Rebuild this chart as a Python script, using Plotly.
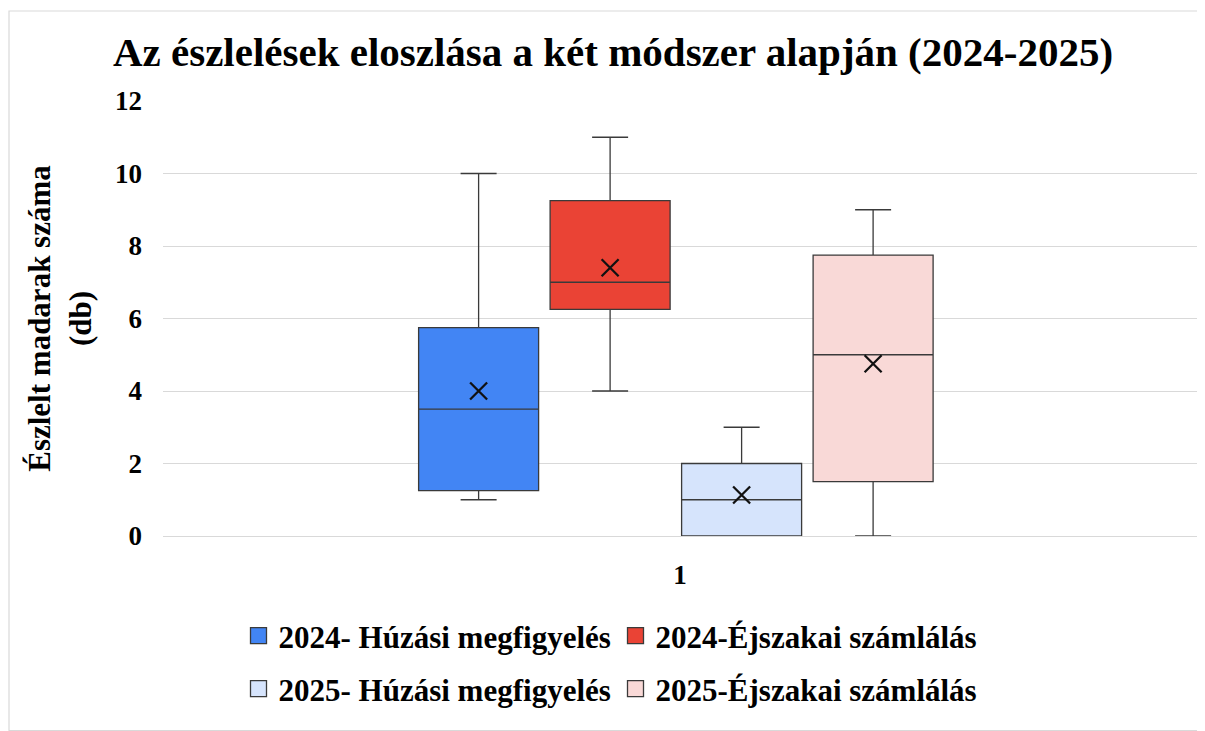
import plotly.graph_objects as go

# ---- data ----
series_names = ["2024- Húzási megfigyelés", "2024-Éjszakai számlálás",
                "2025- Húzási megfigyelés", "2025-Éjszakai számlálás"]
lower_fence = [1.0, 4.0, 0.0, 0.0]
q1_vals = [1.25, 6.25, 0.0, 1.5]
median_vals = [3.5, 7.0, 1.0, 5.0]
q3_vals = [5.75, 9.25, 2.0, 7.75]
upper_fence = [10.0, 11.0, 3.0, 9.0]
mean_vals = [4.0, 7.4, 1.13, 4.75]
category_label = "1"

colors = ["#4285f4", "#ea4335", "#d6e4fc", "#f9d9d7"]
legends = ["legend", "legend", "legend2", "legend2"]

FONT = "Liberation Serif"
OFF = 8  # page body margin
W, H = 1205 - OFF, 731 - OFF
# plot area in page pixels: x 163..1197, y 101..536
ML, MT = 163 - OFF, 101 - OFF
MR = W - (1197 - OFF)
MB = H - (536 - OFF)
PW, PH = W - ML - MR, H - MT - MB

spacing = 131.5 / PW
positions = [(i - 1.5) * spacing - 0.004 for i in range(len(series_names))]
box_w = 120 / PW


def px_x(p):  # page px -> paper x
    return (p - OFF - ML) / PW


def px_y(q):  # page px -> paper y
    return (MT + PH - (q - OFF)) / PH


fig = go.Figure()
for i, name in enumerate(series_names):
    fig.add_trace(go.Box(
        name=name, x=[positions[i]],
        q1=[q1_vals[i]], median=[median_vals[i]], q3=[q3_vals[i]],
        lowerfence=[lower_fence[i]], upperfence=[upper_fence[i]],
        width=box_w, whiskerwidth=0.3,
        fillcolor=colors[i], line=dict(color="#3a3a3a", width=1.3),
        showlegend=False, hoverinfo="skip",
    ))
    # legend swatch
    fig.add_trace(go.Scatter(
        name=name, x=[None], y=[None], mode="markers",
        marker=dict(symbol="square", size=21, color=colors[i],
                    line=dict(color="#3a3a3a", width=1.3)),
        legend=legends[i], showlegend=True, hoverinfo="skip",
    ))
fig.add_trace(go.Scatter(
    x=positions, y=mean_vals, mode="markers", showlegend=False,
    marker=dict(symbol="x-thin", size=17, line=dict(color="#111111", width=2.3)),
    hoverinfo="skip",
))

legend_common = dict(orientation="h", x=px_x(258 - 19.5), xanchor="left", yanchor="middle",
                     entrywidth=332, entrywidthmode="pixels",
                     font=dict(size=31, family=FONT, weight="bold", color="#000000"),
                     itemsizing="trace", bgcolor="rgba(0,0,0,0)")

fig.update_layout(
    width=W, height=H,
    margin=dict(l=ML, r=MR, t=MT, b=MB),
    paper_bgcolor="white", plot_bgcolor="white",
    font=dict(family=FONT, color="#000000"),
    title=dict(text="Az észlelések eloszlása a két módszer alapján (2024-2025)",
               xref="container", x=(613 - OFF) / W, xanchor="center",
               yref="container", y=1 - (52 - OFF) / H, yanchor="middle",
               font=dict(size=41, family=FONT, weight="bold", color="#000000")),
    xaxis=dict(range=[-0.5, 0.5], tickvals=[0], ticktext=[category_label],
               showgrid=False, zeroline=False, showline=False, ticks="",
               ticklabelstandoff=20,
               tickfont=dict(size=27, family=FONT, weight="bold", color="#000000")),
    yaxis=dict(range=[0, 12], dtick=2, tickformat="d",
               showgrid=True, gridcolor="#d9d9d9", gridwidth=1.3,
               zeroline=True, zerolinecolor="#d9d9d9", zerolinewidth=1.3,
               showline=False, ticks="", ticklabelstandoff=20,
               tickfont=dict(size=27, family=FONT, weight="bold", color="#000000"),
               title=dict(text="Észlelt madarak száma<br>(db)",
                          font=dict(size=31, family=FONT, weight="bold", color="#000000"),
                          standoff=14)),
    legend=dict(y=px_y(636), **legend_common),
    legend2=dict(y=px_y(689), **legend_common),
    shapes=[dict(type="rect", xref="paper", yref="paper",
                 x0=px_x(9), x1=px_x(1204.5), y0=px_y(730.5), y1=px_y(11),
                 line=dict(color="#d9d9d9", width=1.2), fillcolor="rgba(0,0,0,0)",
                 layer="below")],
)

fig.write_html("out.html")
